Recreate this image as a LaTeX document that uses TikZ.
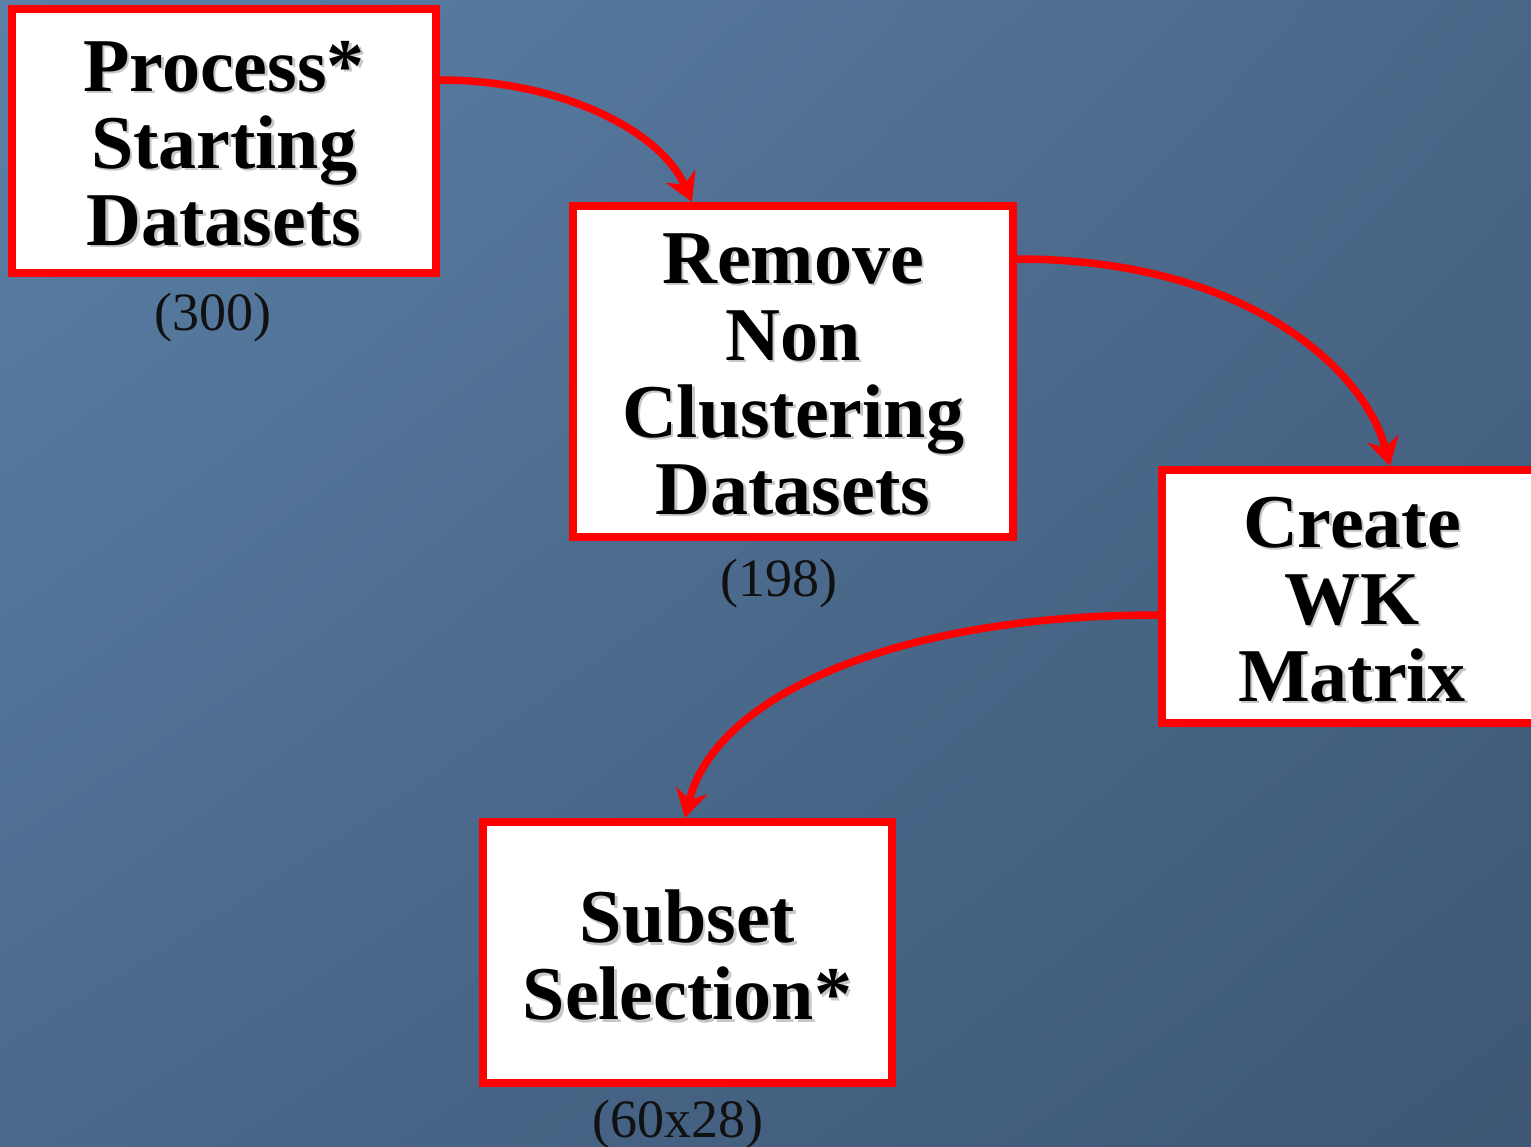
\documentclass[tikz,border=0pt]{standalone}
\usepackage{fontspec}
\setmainfont{Liberation Serif}
\usetikzlibrary{arrows.meta,shadings}
\definecolor{bgUL}{HTML}{5B80A7}
\definecolor{bgUR}{HTML}{4A6788}
\definecolor{bgLL}{HTML}{4A698C}
\definecolor{bgLR}{HTML}{3D5775}
\definecolor{boxred}{HTML}{FF0000}
\definecolor{lbltxt}{HTML}{111111}
\newcommand{\shd}[1]{\leavevmode\raisebox{-4pt}[\height][\depth]{\rlap{\kern2.5pt\raisebox{-2.5pt}{\textcolor{black!22}{#1}}}#1}}
\begin{document}
\begin{tikzpicture}[x=1pt,y=-1pt,
  stepbox/.style={draw=boxred, line width=8pt, fill=white, inner sep=0pt, align=center,
    font=\bfseries\fontsize{76}{77}\selectfont},
  countlbl/.style={inner sep=0pt, text=lbltxt, font=\fontsize{54}{58}\selectfont},
  conn/.style={draw=boxred, line width=7.5pt, -{Stealth[length=28pt,width=32pt,inset=9pt]}}]
\useasboundingbox (0,0) rectangle (1531,1147);
\clip (0,0) rectangle (1531,1147);
\shade[upper left=bgUL, upper right=bgUR, lower left=bgLL, lower right=bgLR] (0,0) rectangle (1531,1147);

\node[stepbox, minimum width=424pt, minimum height=264pt] (b1) at (224,141)
  {\shd{Process*}\\\shd{Starting}\\\shd{Datasets}};
\node[stepbox, minimum width=440pt, minimum height=331pt] (b2) at (793,371.5)
  {\shd{Remove}\\\shd{Non}\\\shd{Clustering}\\\shd{Datasets}};
\node[stepbox, minimum width=380pt, minimum height=253pt] (b3) at (1352,596.5)
  {\shd{Create}\\\shd{WK}\\\shd{Matrix}};
\node[stepbox, minimum width=409pt, minimum height=261pt] (b4) at (687.5,952.5)
  {\shd{Subset}\\\shd{Selection*}};

\node[countlbl] (l1) at (213,318) {(300)};
\node[countlbl] (l2) at (779,584) {(198)};
\node[countlbl] (l4) at (678,1125) {(60x28)};

\coordinate (a1s) at ([yshift=61pt]b1.east);
\coordinate (a1e) at ([xshift=-101pt]b2.north);
\coordinate (a2s) at ([yshift=-57pt]b2.north east);
\coordinate (a2e) at ([xshift=38pt]b3.north);
\coordinate (a3s) at ([yshift=-18.5pt]b3.west);
\coordinate (a3e) at ([xshift=-2.5pt]b4.north);

\draw[conn] (a1s) .. controls +(120,0) and +(-32,-72) .. (a1e);
\draw[conn] (a2s) .. controls +(230,0) and +(-25,-96) .. (a2e);
\draw[conn] (a3s) .. controls +(-262,0) and +(30,-122) .. (a3e);
\end{tikzpicture}
\end{document}
